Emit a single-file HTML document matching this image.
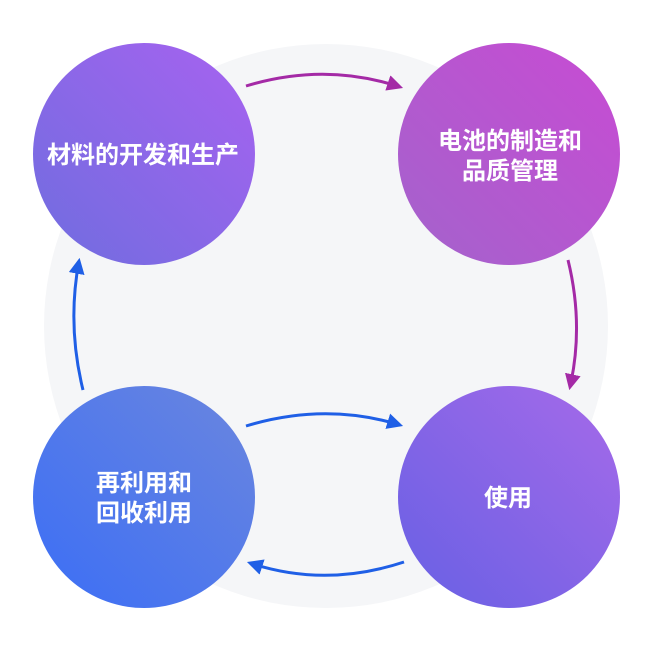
<!DOCTYPE html>
<html><head><meta charset="utf-8"><style>
html,body{margin:0;padding:0;background:#fff;}
svg{display:block;}
text{font-family:"Liberation Sans","Noto Sans CJK SC",sans-serif;font-weight:bold;font-size:24px;fill:#fff;text-anchor:middle;}
</style></head><body>
<svg width="650" height="650" viewBox="0 0 650 650">
<defs>
<linearGradient id="g1" x1="1" y1="0" x2="0" y2="1"><stop offset="0" stop-color="#a862f0"/><stop offset="1" stop-color="#6f6ddf"/></linearGradient>
<linearGradient id="g2" x1="1" y1="0" x2="0" y2="1"><stop offset="0" stop-color="#c84bd3"/><stop offset="1" stop-color="#a363cc"/></linearGradient>
<linearGradient id="g3" x1="1" y1="0" x2="0" y2="1"><stop offset="0" stop-color="#6b86de"/><stop offset="1" stop-color="#3b6ef6"/></linearGradient>
<linearGradient id="g4" x1="1" y1="0" x2="0" y2="1"><stop offset="0" stop-color="#a66ae9"/><stop offset="1" stop-color="#6760e4"/></linearGradient>
<marker id="ap" viewBox="0 0 10 10" refX="8" refY="5" markerWidth="16" markerHeight="16" orient="auto" markerUnits="userSpaceOnUse"><path d="M0,0 L10,5 L0,10 z" fill="#a42aa6"/></marker>
<marker id="ab" viewBox="0 0 10 10" refX="8" refY="5" markerWidth="16" markerHeight="16" orient="auto" markerUnits="userSpaceOnUse"><path d="M0,0 L10,5 L0,10 z" fill="#1f5fe6"/></marker>
</defs>
<circle cx="326" cy="326" r="282" fill="#f5f6f8"/>
<g fill="none" stroke-width="3">
<path d="M246,86 Q325,62 400,87" stroke="#a42aa6" marker-end="url(#ap)"/>
<path d="M568,260 Q584,325 570,387" stroke="#a42aa6" marker-end="url(#ap)"/>
<path d="M246,426 Q325,402 400,425" stroke="#1f5fe6" marker-end="url(#ab)"/>
<path d="M404,562 Q325,588 250,563" stroke="#1f5fe6" marker-end="url(#ab)"/>
<path d="M83,390 Q67,325 79,261" stroke="#1f5fe6" marker-end="url(#ab)"/>
</g>
<circle cx="144" cy="154" r="111" fill="url(#g1)"/>
<circle cx="509" cy="154" r="111" fill="url(#g2)"/>
<circle cx="144" cy="497" r="111" fill="url(#g3)"/>
<circle cx="509" cy="497" r="111" fill="url(#g4)"/>
<text x="143" y="163">材料的开发和生产</text>
<text x="510" y="149">电池的制造和</text>
<text x="510" y="179">品质管理</text>
<text x="144" y="491">再利用和</text>
<text x="144" y="521">回收利用</text>
<text x="508" y="506">使用</text>
</svg>
</body></html>
